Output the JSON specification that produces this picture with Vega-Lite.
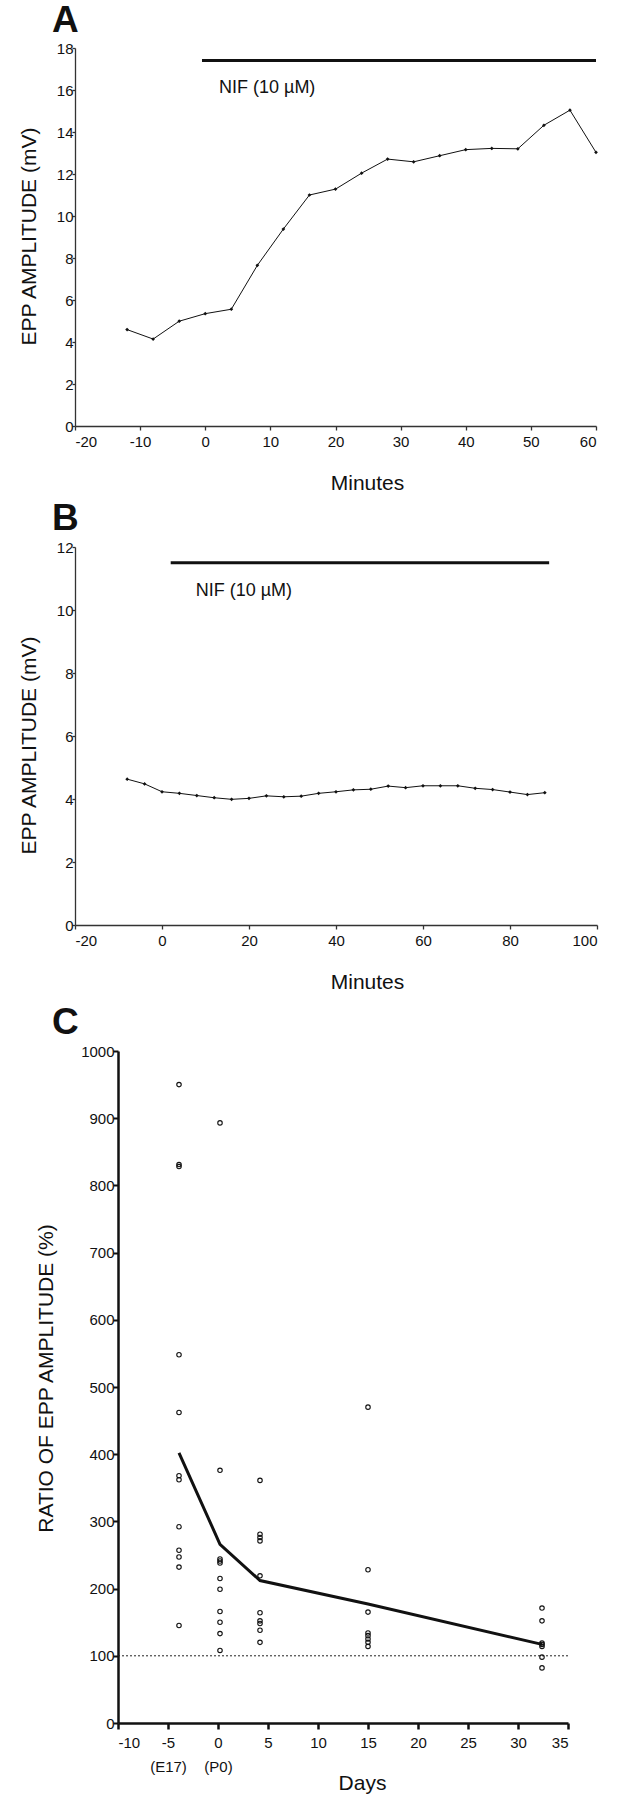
{
  "$schema": "https://vega.github.io/schema/vega-lite/v6.json",
  "padding": {"left": 18, "top": 2, "right": 5, "bottom": 2},
  "background": "white",
  "config": {
    "view": {"stroke": null},
    "font": "Liberation Sans",
    "axis": {"grid": false, "labelFontSize": 15, "titleFontSize": 21, "titleFontWeight": "normal", "labelColor": "#111", "titleColor": "#111", "domainColor": "#333", "tickColor": "#333", "labelFont": "Liberation Sans", "titleFont": "Liberation Sans"},
    "title": {"fontSize": 37, "fontWeight": "bold", "anchor": "start", "frame": "group", "color": "#111", "font": "Liberation Sans"}
  },
  "datasets": {
    "A": [
      {"t": -12, "v": 4.59}, {"t": -8, "v": 4.14}, {"t": -4, "v": 4.99}, {"t": 0, "v": 5.35},
      {"t": 4, "v": 5.56}, {"t": 8, "v": 7.65}, {"t": 12, "v": 9.38}, {"t": 16, "v": 11.0},
      {"t": 20, "v": 11.28}, {"t": 24, "v": 12.04}, {"t": 28, "v": 12.71}, {"t": 32, "v": 12.58},
      {"t": 36, "v": 12.87}, {"t": 40, "v": 13.16}, {"t": 44, "v": 13.22}, {"t": 48, "v": 13.2},
      {"t": 52, "v": 14.32}, {"t": 56, "v": 15.04}, {"t": 60, "v": 13.03}
    ],
    "nifA": [{"t": -0.5, "t2": 60, "v": 17.4, "label": "NIF (10 µM)"}],
    "B": [
      {"t": -8, "v": 4.63}, {"t": -4, "v": 4.48}, {"t": 0, "v": 4.23}, {"t": 4, "v": 4.18},
      {"t": 8, "v": 4.11}, {"t": 12, "v": 4.04}, {"t": 16, "v": 3.99}, {"t": 20, "v": 4.02},
      {"t": 24, "v": 4.1}, {"t": 28, "v": 4.07}, {"t": 32, "v": 4.09}, {"t": 36, "v": 4.18},
      {"t": 40, "v": 4.23}, {"t": 44, "v": 4.29}, {"t": 48, "v": 4.31}, {"t": 52, "v": 4.41},
      {"t": 56, "v": 4.36}, {"t": 60, "v": 4.42}, {"t": 64, "v": 4.42}, {"t": 68, "v": 4.42},
      {"t": 72, "v": 4.34}, {"t": 76, "v": 4.3}, {"t": 80, "v": 4.22}, {"t": 84, "v": 4.14},
      {"t": 88, "v": 4.2}
    ],
    "nifB": [{"t": 2, "t2": 89, "v": 11.5, "label": "NIF (10 µM)"}],
    "C": [
      {"day": -3.9, "ratio": 950}, {"day": -3.9, "ratio": 831}, {"day": -3.9, "ratio": 828},
      {"day": -3.9, "ratio": 548}, {"day": -3.9, "ratio": 462}, {"day": -3.9, "ratio": 368},
      {"day": -3.9, "ratio": 362}, {"day": -3.9, "ratio": 292}, {"day": -3.9, "ratio": 257},
      {"day": -3.9, "ratio": 247}, {"day": -3.9, "ratio": 232}, {"day": -3.9, "ratio": 145},
      {"day": 0.2, "ratio": 893}, {"day": 0.2, "ratio": 376}, {"day": 0.2, "ratio": 244},
      {"day": 0.2, "ratio": 241}, {"day": 0.2, "ratio": 238}, {"day": 0.2, "ratio": 215},
      {"day": 0.2, "ratio": 199}, {"day": 0.2, "ratio": 166}, {"day": 0.2, "ratio": 150},
      {"day": 0.2, "ratio": 133}, {"day": 0.2, "ratio": 108},
      {"day": 4.2, "ratio": 361}, {"day": 4.2, "ratio": 281}, {"day": 4.2, "ratio": 276},
      {"day": 4.2, "ratio": 271}, {"day": 4.2, "ratio": 219}, {"day": 4.2, "ratio": 164},
      {"day": 4.2, "ratio": 152}, {"day": 4.2, "ratio": 148}, {"day": 4.2, "ratio": 138},
      {"day": 4.2, "ratio": 120},
      {"day": 15, "ratio": 470}, {"day": 15, "ratio": 228}, {"day": 15, "ratio": 165},
      {"day": 15, "ratio": 134}, {"day": 15, "ratio": 130}, {"day": 15, "ratio": 125},
      {"day": 15, "ratio": 120}, {"day": 15, "ratio": 114},
      {"day": 32.4, "ratio": 171}, {"day": 32.4, "ratio": 152}, {"day": 32.4, "ratio": 119},
      {"day": 32.4, "ratio": 117}, {"day": 32.4, "ratio": 114}, {"day": 32.4, "ratio": 98},
      {"day": 32.4, "ratio": 82}
    ],
    "Cmean": [
      {"day": -3.9, "ratio": 402}, {"day": 0.2, "ratio": 266}, {"day": 4.2, "ratio": 212},
      {"day": 15, "ratio": 177}, {"day": 32.4, "ratio": 117}
    ],
    "Cref": [{"day": -10, "day2": 35, "ratio": 100}]
  },
  "spacing": 121,
  "bounds": "flush",
  "vconcat": [
    {
      "title": {"text": "A", "dx": -23, "offset": 1},
      "width": 521,
      "height": 378,
      "encoding": {
        "x": {"field": "t", "type": "quantitative",
          "scale": {"domain": [-20, 60], "nice": false, "zero": false},
          "axis": {"values": [-20, -10, 0, 10, 20, 30, 40, 50, 60], "title": "Minutes",
            "labelExpr": "(datum.value < 0 ? '-' : '') + abs(datum.value)",
            "tickSize": 4, "labelPadding": 4, "domainWidth": 1.3, "tickWidth": 1.3,
            "titleX": 292, "titleY": 57, "titleAlign": "center", "titleBaseline": "middle"}},
        "y": {"field": "v", "type": "quantitative",
          "scale": {"domain": [0, 18], "nice": false, "zero": true},
          "axis": {"values": [0, 2, 4, 6, 8, 10, 12, 14, 16, 18], "title": "EPP AMPLITUDE (mV)",
            "tickSize": 3, "labelPadding": -1, "domainWidth": 1.3, "tickWidth": 1.3,
            "titleX": -46, "titleY": 188, "titleAlign": "center", "titleBaseline": "middle", "titleAngle": -90}}
      },
      "layer": [
        {"data": {"name": "nifA"}, "mark": {"type": "rule", "strokeWidth": 3, "color": "#111"},
         "encoding": {"x2": {"field": "t2"}}},
        {"data": {"name": "nifA"}, "mark": {"type": "text", "align": "left", "baseline": "middle", "dx": 17, "dy": 27, "fontSize": 18, "color": "#111"},
         "encoding": {"text": {"field": "label"}}},
        {"data": {"name": "A"}, "mark": {"type": "line", "strokeWidth": 1, "color": "#111"}},
        {"data": {"name": "A"}, "mark": {"type": "point", "shape": "diamond", "filled": true, "size": 14, "color": "#111", "opacity": 1}}
      ]
    },
    {
      "spacing": 126,
      "bounds": "flush",
      "vconcat": [
        {
          "title": {"text": "B", "dx": -23, "offset": 2},
          "width": 522,
          "height": 378,
          "encoding": {
            "x": {"field": "t", "type": "quantitative",
              "scale": {"domain": [-20, 100], "nice": false, "zero": false},
              "axis": {"values": [-20, 0, 20, 40, 60, 80, 100], "title": "Minutes",
                "labelExpr": "(datum.value < 0 ? '-' : '') + abs(datum.value)",
                "tickSize": 4, "labelPadding": 4, "domainWidth": 1.3, "tickWidth": 1.3,
                "titleX": 292, "titleY": 57, "titleAlign": "center", "titleBaseline": "middle"}},
            "y": {"field": "v", "type": "quantitative",
              "scale": {"domain": [0, 12], "nice": false, "zero": true},
              "axis": {"values": [0, 2, 4, 6, 8, 10, 12], "title": "EPP AMPLITUDE (mV)",
                "tickSize": 3, "labelPadding": -1, "domainWidth": 1.3, "tickWidth": 1.3,
                "titleX": -46, "titleY": 198, "titleAlign": "center", "titleBaseline": "middle", "titleAngle": -90}}
          },
          "layer": [
            {"data": {"name": "nifB"}, "mark": {"type": "rule", "strokeWidth": 3, "color": "#111"},
             "encoding": {"x2": {"field": "t2"}}},
            {"data": {"name": "nifB"}, "mark": {"type": "text", "align": "left", "baseline": "middle", "dx": 25, "dy": 28, "fontSize": 18, "color": "#111"},
             "encoding": {"text": {"field": "label"}}},
            {"data": {"name": "B"}, "mark": {"type": "line", "strokeWidth": 1, "color": "#111"}},
            {"data": {"name": "B"}, "mark": {"type": "point", "shape": "diamond", "filled": true, "size": 14, "color": "#111", "opacity": 1}}
          ]
        },
        {
          "spacing": 0,
          "bounds": "flush",
          "hconcat": [
            {"width": 43, "height": 10, "data": {"values": []}, "mark": "point"},
            {
              "title": {"text": "C", "dx": -66, "offset": 2},
              "width": 450,
              "height": 672,
              "encoding": {
                "x": {"field": "day", "type": "quantitative",
                  "scale": {"domain": [-10, 35], "nice": false, "zero": false},
                  "axis": {"values": [-10, -5, 0, 5, 10, 15, 20, 25, 30, 35], "title": "Days",
                    "labelExpr": "datum.value === -5 ? ['-5', '(E17)'] : datum.value === 0 ? ['0', '(P0)'] : (datum.value < 0 ? '-' : '') + abs(datum.value)",
                    "labelLineHeight": 24, "tickSize": 6, "labelPadding": 6,
                    "domainWidth": 2.5, "tickWidth": 2.5, "domainColor": "#111", "tickColor": "#111",
                    "titleX": 244, "titleY": 60, "titleAlign": "center", "titleBaseline": "middle"}},
                "y": {"field": "ratio", "type": "quantitative",
                  "scale": {"domain": [0, 1000], "nice": false, "zero": true},
                  "axis": {"values": [0, 100, 200, 300, 400, 500, 600, 700, 800, 900, 1000], "title": "RATIO OF EPP AMPLITUDE (%)",
                    "format": "d",
                    "tickSize": 5, "labelPadding": -1, "domainWidth": 2.5, "tickWidth": 2, "domainColor": "#111", "tickColor": "#111",
                    "titleX": -72, "titleY": 327, "titleAlign": "center", "titleBaseline": "middle", "titleAngle": -90}}
              },
              "layer": [
                {"data": {"name": "Cref"},
                 "mark": {"type": "rule", "strokeDash": [2, 2], "strokeWidth": 1, "color": "#222"},
                 "encoding": {"x2": {"field": "day2"}}},
                {"data": {"name": "C"}, "mark": {"type": "point", "shape": "circle", "filled": false, "size": 20, "strokeWidth": 1.1, "color": "#111", "opacity": 1}},
                {"data": {"name": "Cmean"}, "mark": {"type": "line", "strokeWidth": 3, "color": "#111"}}
              ]
            }
          ]
        }
      ]
    }
  ]
}
